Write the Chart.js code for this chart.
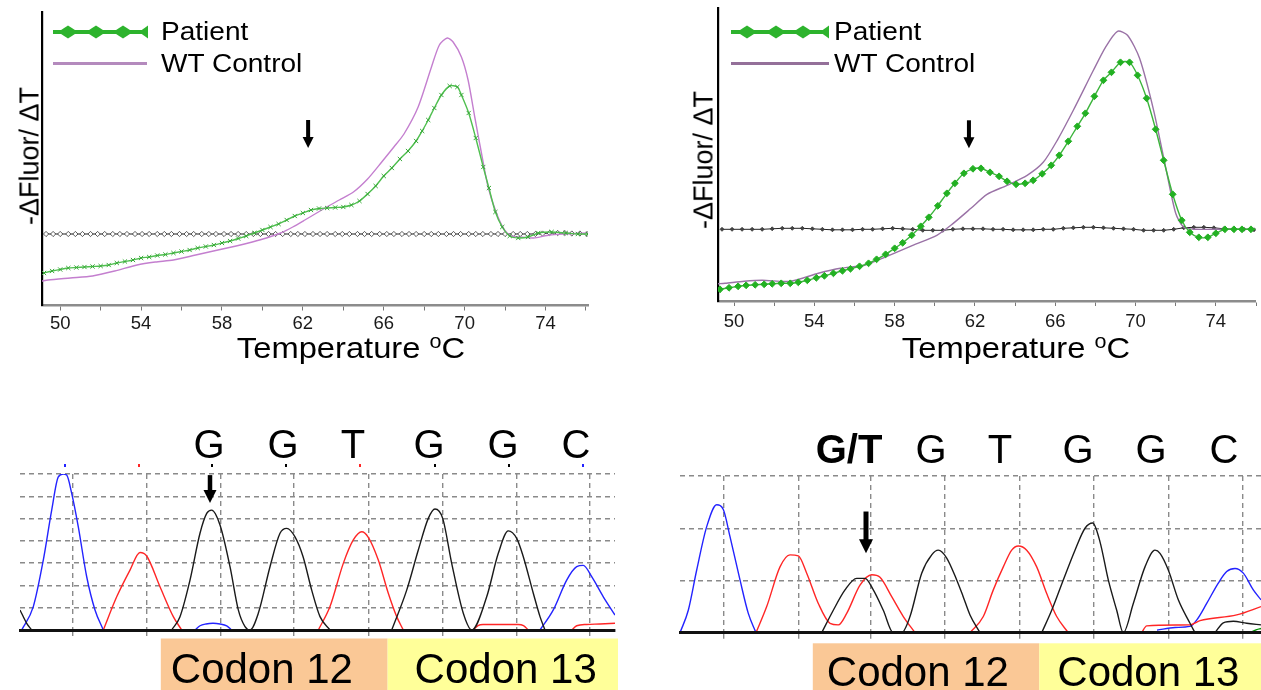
<!DOCTYPE html>
<html>
<head>
<meta charset="utf-8">
<title>Melting curves and sequencing traces</title>
<script src="https://cdn.jsdelivr.net/npm/chart.js@4.4.1/dist/chart.umd.min.js"></script>
<style>
  body { margin: 0; width: 1261px; height: 690px; position: relative; overflow: hidden; background: #fff;
         font-family: "Liberation Sans", Arial, sans-serif; }
  canvas { position: absolute; }
  .txt { position: absolute; white-space: nowrap; color: #000; line-height: 1; }
  .leg { font-size: 25.5px; transform-origin: 0 50%; transform: translateY(-50%) scaleX(1.1); }
  .xt { font-size: 30px; transform: translate(-50%, -50%) scaleX(1.09); }
  .xt span { font-size: 0.66em; position: relative; top: -0.5em; }
  .yt { font-size: 27px; transform: translate(-50%, -50%) rotate(-90deg); }
  .sw { position: absolute; }
  .wt { position: absolute; height: 3px; }
</style>
</head>
<body>
<canvas id="meltA" width="620" height="340" style="left:0;top:0"></canvas>
<canvas id="meltB" width="601" height="340" style="left:660px;top:0"></canvas>
<canvas id="seqA" width="630" height="270" style="left:0;top:420px"></canvas>
<canvas id="seqB" width="601" height="270" style="left:660px;top:420px"></canvas>

<!-- legends -->
<svg class="sw" style="left:53px;top:24px;filter:blur(0.6px)" width="96" height="16">
  <g fill="#2db32d">
    <rect x="0" y="6" width="94" height="4"/>
    <polygon points="15,1.5 25,8 15,14.5 5,8"/><polygon points="43,1.5 53,8 43,14.5 33,8"/>
    <polygon points="70,1.5 80,8 70,14.5 60,8"/><polygon points="95,1.5 95,14.5 86,8"/>
  </g>
</svg>
<div class="txt leg" style="left:161px;top:32px">Patient</div>
<div class="wt" style="left:53px;top:62px;width:94px;background:#b48abd"></div>
<div class="txt leg" style="left:161px;top:64px">WT Control</div>

<svg class="sw" style="left:731px;top:24px;filter:blur(0.6px)" width="99" height="16">
  <g fill="#2db32d">
    <rect x="0" y="6" width="97" height="4"/>
    <polygon points="16,1.5 26,8 16,14.5 6,8"/><polygon points="45,1.5 55,8 45,14.5 35,8"/>
    <polygon points="72,1.5 82,8 72,14.5 62,8"/><polygon points="98,1.5 98,14.5 89,8"/>
  </g>
</svg>
<div class="txt leg" style="left:834px;top:32px">Patient</div>
<div class="wt" style="left:731px;top:62px;width:98px;background:#947099"></div>
<div class="txt leg" style="left:834px;top:64px">WT Control</div>

<!-- axis titles -->
<div class="txt yt" style="left:30px;top:156px">-ΔFluor/ ΔT</div>
<div class="txt yt" style="left:704px;top:160px">-ΔFluor/ ΔT</div>
<div class="txt xt" style="left:351px;top:348px">Temperature <span>o</span>C</div>
<div class="txt xt" style="left:1016px;top:348px">Temperature <span>o</span>C</div>

<script>
// ---------- melting curves (temperature in degC, -dF/dT in arbitrary units) ----------
const tempMinor = [50, 52, 54, 56, 58, 60, 62, 64, 66, 68, 70, 72, 74, 76];
const tempLabels = [50, 54, 58, 62, 66, 70, 74];

// panel A: codon 12 shoulder
const tWtA = [49.1, 49.4, 50.5, 51.6, 52.7, 53.8, 54.7, 55.6, 56.7, 57.8, 58.7, 59.5, 60.2, 60.9, 61.5,
  62.1, 63.1, 63.8, 64.5, 65.2, 65.9, 66.5, 67.0, 67.7, 68.36, 68.75, 69.14, 69.43, 69.84, 70.17,
  70.5, 70.83, 71.16, 71.57, 71.97, 72.3, 72.8, 73.4, 74.2, 75.0, 76.1];
const wtA = [-0.47, -0.46, -0.44, -0.42, -0.37, -0.31, -0.28, -0.26, -0.21, -0.16, -0.12, -0.08, -0.04, 0.01, 0.07,
  0.14, 0.26, 0.34, 0.42, 0.55, 0.72, 0.87, 1.0, 1.27, 1.67, 1.89, 1.96, 1.92, 1.77, 1.54,
  1.17, 0.81, 0.47, 0.21, 0.04, -0.02, -0.03, -0.04, -0.01, 0.0, 0.01];

const tPtA = [49.2, 49.6, 50.0, 50.4, 50.8, 51.2, 51.6, 52.0, 52.4, 52.8,
  53.2, 53.6, 54.0, 54.4, 54.8, 55.2, 55.6, 56.0, 56.4, 56.8,
  57.2, 57.6, 58.0, 58.4, 58.8, 59.2, 59.6, 60.0, 60.4, 60.8,
  61.2, 61.6, 62.0, 62.4, 62.8, 63.2, 63.6, 64.0, 64.4, 64.8,
  65.2, 65.6, 66.0, 66.4, 66.8, 67.2, 67.6, 67.9, 68.2, 68.5,
  68.85, 69.26, 69.64, 69.84, 70.2, 70.55, 70.92, 71.2, 71.52, 71.86,
  72.23, 72.65, 73.14, 73.64, 74.3, 75.0, 75.6, 76.1];
const ptA = [-0.39, -0.37, -0.355, -0.34, -0.335, -0.33, -0.325, -0.32, -0.31, -0.29,
  -0.275, -0.26, -0.24, -0.23, -0.215, -0.205, -0.19, -0.175, -0.16, -0.14,
  -0.125, -0.11, -0.09, -0.07, -0.045, -0.02, 0.01, 0.04, 0.07, 0.10,
  0.14, 0.18, 0.21, 0.24, 0.255, 0.26, 0.265, 0.27, 0.29, 0.33,
  0.40, 0.48, 0.58, 0.66, 0.75, 0.83, 0.93, 1.03, 1.14, 1.26,
  1.39, 1.48, 1.47, 1.39, 1.21, 0.96, 0.67, 0.46, 0.22, 0.07,
  -0.02, -0.04, -0.03, 0.01, 0.02, 0.01, 0.0, 0.0];

const tBlankA = [49.3, 49.65, 50.0, 50.4, 50.75, 51.1, 51.5, 51.85, 52.2, 52.6,
  52.95, 53.3, 53.7, 54.05, 54.4, 54.8, 55.15, 55.5, 55.9, 56.25,
  56.6, 57.0, 57.35, 57.7, 58.1, 58.45, 58.8, 59.2, 59.55, 59.9,
  60.3, 60.65, 61.0, 61.4, 61.75, 62.1, 62.5, 62.85, 63.2, 63.6,
  63.95, 64.3, 64.7, 65.05, 65.4, 65.8, 66.15, 66.5, 66.9, 67.25,
  67.6, 68.0, 68.35, 68.7, 69.1, 69.45, 69.8, 70.2, 70.55, 70.9,
  71.3, 71.65, 72.0, 72.4, 72.75, 73.1, 73.5, 73.85, 74.2, 74.6,
  74.95, 75.3, 75.7, 76.05];
const blankA = [0, 0, 0, 0, 0, 0, 0, 0, 0, 0,
  0, 0, 0, 0, 0, 0, 0, 0, 0, 0,
  0, 0, 0, 0, 0, 0, 0, 0, 0, 0,
  0, 0, 0, 0, 0, 0, 0, 0, 0, 0,
  0, 0, 0, 0, 0, 0, 0, 0, 0, 0,
  0, 0, 0, 0, 0, 0, 0, 0, 0, 0,
  0, 0, 0, 0, 0, 0, 0, 0.005, 0.01, 0.01,
  0.01, 0.005, 0.005, 0];

// panel B: separate low-temperature peak
const tWtB = [49.2, 49.55, 50.5, 51.4, 52.8, 54.2, 55.3, 56.5, 57.5, 58.9,
  60.1, 60.8, 61.8, 62.6, 63.6, 64.6, 65.4, 66.1, 66.9, 67.9,
  68.5, 69.1, 69.6, 70.2, 70.9, 71.5, 72.0, 72.4, 73.0, 73.8, 76.0];
const wtB = [-0.545, -0.54, -0.52, -0.51, -0.52, -0.44, -0.39, -0.36, -0.28, -0.16,
  -0.06, 0.04, 0.21, 0.35, 0.44, 0.54, 0.67, 0.89, 1.19, 1.59,
  1.82, 1.98, 1.94, 1.71, 1.19, 0.62, 0.16, 0.02, 0.0, 0.0, 0.0];

const tPtB = [49.3, 49.75, 50.2, 50.6, 51.05, 51.5, 51.9, 52.35, 52.8, 53.2,
  53.65, 54.1, 54.5, 54.95, 55.4, 55.8, 56.25, 56.7, 57.1, 57.55,
  58.0, 58.4, 58.85, 59.3, 59.7, 60.15, 60.6, 61.0, 61.45, 61.9,
  62.3, 62.75, 63.2, 63.6, 64.05, 64.5, 64.9, 65.35, 65.8, 66.2,
  66.65, 67.1, 67.5, 67.95, 68.4, 68.8, 69.25, 69.7, 70.1, 70.55,
  71.0, 71.4, 71.85, 72.3, 72.7, 73.15, 73.6, 74.0, 74.45, 74.9,
  75.3, 75.75, 76.2];
const ptB = [-0.60, -0.585, -0.57, -0.56, -0.555, -0.55, -0.545, -0.54, -0.54, -0.53,
  -0.51, -0.485, -0.465, -0.44, -0.415, -0.395, -0.37, -0.34, -0.30, -0.25,
  -0.19, -0.135, -0.06, 0.03, 0.12, 0.235, 0.36, 0.46, 0.56, 0.605,
  0.61, 0.57, 0.53, 0.48, 0.45, 0.46, 0.49, 0.555, 0.64, 0.74,
  0.88, 1.03, 1.16, 1.33, 1.49, 1.57, 1.67, 1.67, 1.54, 1.31,
  1.0, 0.69, 0.35, 0.09, -0.03, -0.08, -0.08, -0.04, 0.0, 0.0,
  0.0, 0.0, 0.0];

const tBlankB = [49.4, 49.9, 50.4, 50.9, 51.4, 51.9, 52.4, 52.9, 53.4, 53.9,
  54.4, 54.9, 55.4, 55.9, 56.4, 56.9, 57.4, 57.9, 58.4, 58.9,
  59.4, 59.9, 60.4, 60.9, 61.4, 61.9, 62.4, 62.9, 63.4, 63.9,
  64.4, 64.9, 65.4, 65.9, 66.4, 66.9, 67.4, 67.9, 68.4, 68.9,
  69.4, 69.9, 70.4, 70.9, 71.4, 71.9, 72.4, 72.9, 73.4, 73.9,
  74.4, 74.9, 75.4, 75.9, 76.4];
const blankB = [0, 0, 0, 0, 0, 0.005, 0.01, 0.01, 0.01, 0.005,
  0, -0.005, -0.005, -0.005, 0, 0, 0.005, 0.01, 0.005, 0,
  -0.01, -0.01, -0.01, 0, 0.005, 0.005, 0.005, 0, 0, -0.005,
  -0.005, -0.005, 0, 0, 0.01, 0.015, 0.02, 0.02, 0.015, 0.01,
  0.005, 0, -0.01, -0.01, -0.01, 0, 0.015, 0.02, 0.02, 0.015,
  0.005, 0, 0, -0.005, 0];

// ---------- sequencing traces (scan position, signal) ----------
const gridA = [72.3, 146.7, 220.7, 294, 368.3, 442.7, 516.7, 590];
const scanBlueA = [21.7, 33.3, 43.3, 51.7, 58.3, 63.3, 66.7, 71.7, 78.3, 86.7, 95, 103.3, 150, 195, 200,
  206, 213, 220, 226.7, 231.7, 400, 540, 553.3, 566.7, 576.7, 583.3, 591.7, 603.3, 615];
const sigBlueA = [0, 1.05, 3.14, 5.38, 6.87, 7.0, 6.95, 6.13, 4.63, 2.39, 0.9, 0, null, 0, 0.19,
  0.27, 0.3, 0.27, 0.19, 0, null, 0, 0.9, 2.24, 2.84, 2.9, 2.39, 1.49, 0.67];
const scanRedA = [103.3, 116.7, 130, 140, 146.7, 160, 173.3, 181.7, 250, 318.3,
  330, 343.3, 353.3, 361.7, 368.3, 378.3, 388.3, 396.7, 403.3, 440,
  473.3, 478, 483, 518, 523.5, 528.3, 550, 571.7, 576.7, 586.7, 600, 615];
const sigRedA = [0, 1.49, 2.69, 3.48, 3.32, 1.94, 0.6, 0, null, 0,
  1.05, 2.99, 4.04, 4.41, 4.16, 3.14, 1.65, 0.6, 0, null,
  0, 0.2, 0.25, 0.25, 0.2, 0, null, 0, 0.19, 0.25, 0.27, 0.3];
const scanBlackA = [20, 26.7, 31.7, 100, 171.7, 180, 190, 200, 206.7, 211.7,
  220, 230, 238.3, 245, 250, 258.3, 270, 280, 286.7, 295,
  303, 311.7, 320, 330, 360, 391.7, 406.7, 418.3, 428.3, 435,
  442.7, 451.7, 463.3, 471.7, 486.7, 498.3, 508.3, 516.7, 523.3, 533.3, 540, 545];
const sigBlackA = [0.9, 0.3, 0, null, 0, 0.6, 2.24, 4.34, 5.23, 5.38,
  4.71, 2.84, 0.9, 0.15, 0, 0.75, 2.84, 4.34, 4.56, 4.18,
  3.3, 1.79, 0.6, 0, null, 0, 1.79, 3.59, 5.01, 5.43,
  5.01, 2.99, 0.75, 0, 1.49, 3.44, 4.45, 4.11, 3.29, 1.65, 0.6, 0];
const callTickA = [65, 139, 212, 286, 360, 435, 509, 583];
const callTickColA = ['#2323ff', '#ff2626', '#000', '#000', '#ff2626', '#000', '#000', '#2323ff'];
const basesA = ['G', 'G', 'T', 'G', 'G', 'C'];
const basePosA = [209, 283, 353, 429, 503, 576];
const codonNames = ['Codon 12', 'Codon 13'];
const codonStartA = [160.8, 387.6];
const codonEndA = [387.6, 618];

const gridB = [724, 798.3, 871, 945, 1019.3, 1093.3, 1168.3, 1242.7];
const scanBlueB = [680, 688.3, 696.7, 706.7, 716.7, 723.3, 730, 740, 748.3, 756,
  950, 1157, 1175, 1190, 1197, 1206.7, 1218.3, 1226.7, 1235, 1243.3, 1253.3, 1261];
const sigBlueB = [0, 0.43, 1.2, 2.03, 2.45, 2.36, 1.84, 1.01, 0.37, 0,
  null, 0.05, 0.1, 0.12, 0.25, 0.56, 0.95, 1.17, 1.23, 1.14, 0.82, 0.63];
const scanRedB = [756, 766.7, 780, 790, 798.3, 806.7, 818.3, 830, 838.3, 846.7,
  860, 871.7, 880, 891.7, 903.3, 915, 940, 970, 983.3, 993.3,
  1003.3, 1011.7, 1018.3, 1026.7, 1036.7, 1046.7, 1056.7, 1068.3, 1100, 1141.7,
  1146.7, 1190, 1200, 1236.7, 1261];
const sigRedB = [0, 0.5, 1.26, 1.49, 1.47, 1.14, 0.56, 0.18, 0.15, 0.37,
  0.91, 1.11, 1.06, 0.69, 0.31, 0, null, 0, 0.31, 0.82,
  1.26, 1.58, 1.66, 1.58, 1.26, 0.75, 0.31, 0, null, 0,
  0.13, 0.15, 0.23, 0.34, 0.5];
const scanBlackB = [821.7, 833.3, 845, 856.7, 865, 873.3, 883.3, 893.3, 901.7, 910,
  921.7, 931.7, 938.3, 946.7, 956.7, 963, 970, 980, 1010, 1041.7,
  1051.7, 1063.3, 1075, 1085, 1092.7, 1100, 1108.3, 1116.7, 1123.3, 1133.3,
  1145, 1155, 1160, 1168.3, 1178.3, 1190, 1195, 1205, 1215, 1223.3,
  1233.3, 1246.7, 1261];
const sigBlackB = [0, 0.43, 0.82, 1.04, 1.04, 0.82, 0.43, 0, 0, 0.31,
  1.14, 1.49, 1.58, 1.43, 1.01, 0.7, 0.34, 0, null, 0,
  0.43, 1.01, 1.58, 2.0, 2.1, 1.74, 1.01, 0.43, 0, 0.56,
  1.26, 1.58, 1.52, 1.2, 0.63, 0.18, 0, null, 0, 0.19,
  0.22, 0.18, 0.15];
const scanGreenB = [1250, 1256.7, 1261];
const sigGreenB = [0, 0.06, 0.08];
const basesB = ['G/T', 'G', 'T', 'G', 'G', 'C'];
const basePosB = [849, 931, 1000, 1078, 1151, 1224];
const codonStartB = [812.8, 1039.3];
const codonEndB = [1039.3, 1261];

// ---------- helpers ----------
const FONT = '"Liberation Sans", Arial, sans-serif';
Chart.defaults.font.family = FONT;

const pairs = (xs, ys) => xs.map((x, i) => ({ x, y: ys[i] }));

// draws arrows, base calls and codon boxes through the chart's own scales
function decor(cfg) {
  return {
    id: 'decor',
    afterDatasetsDraw(chart) {
      const { ctx, scales: { x, y } } = chart;
      ctx.save();
      ctx.fillStyle = '#000';
      (cfg.arrows || []).forEach(a => {
        const px = x.getPixelForValue(a.x);
        const top = y.getPixelForValue(a.from);
        const tip = y.getPixelForValue(a.to);
        ctx.fillRect(px - a.shaft / 2, top, a.shaft, tip - top - a.headH + 1);
        ctx.beginPath();
        ctx.moveTo(px - a.headW / 2, tip - a.headH);
        ctx.lineTo(px + a.headW / 2, tip - a.headH);
        ctx.lineTo(px, tip);
        ctx.closePath();
        ctx.fill();
      });
      ctx.restore();
    },
    afterDraw(chart) {
      const { ctx, chartArea: area, scales: { x } } = chart;
      ctx.save();
      if (cfg.ticks) {
        cfg.ticks.pos.forEach((p, i) => {
          ctx.fillStyle = cfg.ticks.colors[i];
          ctx.fillRect(x.getPixelForValue(p) - 1, area.top - 10, 2, 3);
        });
      }
      if (cfg.bases) {
        ctx.fillStyle = '#000';
        ctx.textAlign = 'center';
        ctx.textBaseline = 'alphabetic';
        cfg.bases.text.forEach((t, i) => {
          ctx.font = (t.includes('/') ? 'bold ' : '') + cfg.bases.size + 'px ' + FONT;
          ctx.fillText(t, x.getPixelForValue(cfg.bases.pos[i]), area.top + cfg.bases.dy);
        });
      }
      if (cfg.codons) {
        const c = cfg.codons;
        c.start.forEach((s, i) => {
          const x1 = x.getPixelForValue(s), x2 = x.getPixelForValue(c.end[i]);
          ctx.fillStyle = c.colors[i];
          ctx.fillRect(x1, area.bottom + c.boxDy, x2 - x1, chart.height - area.bottom - c.boxDy);
          ctx.fillStyle = '#000';
          ctx.font = c.size + 'px ' + FONT;
          ctx.textAlign = 'left';
          ctx.fillText(c.names[i], x1 + c.textDx[i], area.bottom + c.textDy);
        });
      }
      ctx.restore();
    }
  };
}

function meltChart(id, o) {
  return new Chart(document.getElementById(id), {
    type: 'scatter',
    data: {
      datasets: [
        { data: pairs(o.tPt, o.pt), showLine: true, tension: 0.25, borderColor: o.ptLine, borderWidth: 1.4,
          pointStyle: o.ptStyle, pointRadius: o.ptR, pointBackgroundColor: o.ptFill,
          pointBorderColor: o.ptFill, pointBorderWidth: 1 },
        { data: pairs(o.tWt, o.wt), showLine: true, tension: 0.25, borderColor: o.wtColor, borderWidth: 1.4,
          pointRadius: 0 },
        { data: pairs(o.tBlank, o.blank), showLine: true, borderColor: '#222', borderWidth: 1,
          pointStyle: 'rectRot', pointRadius: o.blankR, pointBackgroundColor: o.blankFill,
          pointBorderColor: '#333', pointBorderWidth: 0.8 }
      ]
    },
    options: {
      responsive: false, animation: false, events: [],
      layout: { padding: { top: o.padTop, right: o.padRight, left: 0, bottom: 0 } },
      plugins: { legend: { display: false }, tooltip: { enabled: false } },
      scales: {
        x: {
          type: 'linear', min: o.xMin, max: o.xMax,
          afterBuildTicks: s => { s.ticks = tempMinor.map(v => ({ value: v })); },
          afterFit: s => { s.height = o.xH; },
          ticks: { autoSkip: false, maxRotation: 0, padding: o.tickPad, color: '#1a1a1a',
                   font: { size: 18.5 }, callback: v => tempLabels.includes(v) ? String(v) : '' },
          grid: { drawOnChartArea: false, tickLength: 5, color: '#777' },
          border: { color: '#8c8c8c', width: 2.5 }
        },
        y: {
          min: o.yMin, max: o.yMax,
          afterFit: s => { s.width = o.yW; },
          ticks: { display: false }, grid: { display: false },
          border: { color: '#000', width: 2.2 }
        }
      }
    },
    plugins: [decor({ arrows: [o.arrow] })]
  });
}

function seqChart(id, o) {
  return new Chart(document.getElementById(id), {
    type: 'scatter',
    data: {
      datasets: o.traces.map(t => ({
        data: pairs(t[0], t[1]), showLine: true, spanGaps: false, cubicInterpolationMode: 'monotone',
        borderColor: t[2], borderWidth: 1.4, pointRadius: 0
      }))
    },
    options: {
      responsive: false, animation: false, events: [],
      layout: { padding: { top: o.padTop, right: o.padRight, left: 0, bottom: 0 } },
      plugins: { legend: { display: false }, tooltip: { enabled: false } },
      scales: {
        x: {
          type: 'linear', min: o.xMin, max: o.xMax,
          afterBuildTicks: s => { s.ticks = o.grid.map(v => ({ value: v })); },
          afterFit: s => { s.height = o.xH; },
          ticks: { display: false },
          grid: { color: '#8a8a8a', lineWidth: 1.4, tickLength: 6 },
          border: { color: '#111', width: 3, dash: [5, 4], z: 1 }
        },
        y: {
          min: 0, max: o.yMax,
          afterFit: s => { s.width = o.yW; },
          ticks: { display: false, stepSize: 1 },
          grid: { color: '#8a8a8a', lineWidth: 1.4, drawTicks: false },
          border: { display: false, dash: [5, 4] }
        }
      }
    },
    plugins: [decor(o.decor)]
  });
}

// ---------- charts ----------
meltChart('meltA', {
  tPt: tPtA, pt: ptA, tWt: tWtA, wt: wtA, tBlank: tBlankA, blank: blankA,
  ptLine: '#4fbf4f', ptFill: '#38a838', ptStyle: 'crossRot', ptR: 3,
  wtColor: '#c47fcf', blankR: 2.6, blankFill: '#fff',
  xMin: 49.1, xMax: 76.1, yMin: -0.715, yMax: 2.22,
  padTop: 12, padRight: 32, xH: 34.5, yW: 42, tickPad: 2,
  arrow: { x: 62.26, from: 1.14, to: 0.86, shaft: 4, headW: 11, headH: 11 }
});

meltChart('meltB', {
  tPt: tPtB, pt: ptB, tWt: tWtB, wt: wtB, tBlank: tBlankB, blank: blankB,
  ptLine: '#3cb43c', ptFill: '#22b022', ptStyle: 'rectRot', ptR: 3.4,
  wtColor: '#9a72a6', blankR: 2, blankFill: '#444',
  xMin: 49.2, xMax: 75.98, yMin: -0.717, yMax: 2.213,
  padTop: 8, padRight: 3, xH: 39, yW: 58, tickPad: 5,
  arrow: { x: 61.7, from: 1.09, to: 0.81, shaft: 4, headW: 11, headH: 11 }
});

seqChart('seqA', {
  traces: [[scanBlackA, sigBlackA, '#1a1a1a'], [scanRedA, sigRedA, '#ff2626'], [scanBlueA, sigBlueA, '#2323ff']],
  grid: gridA, xMin: 20, xMax: 615, yMax: 7,
  padTop: 54, padRight: 15, xH: 60, yW: 20,
  decor: {
    arrows: [{ x: 210, from: 6.95, to: 5.7, shaft: 4.5, headW: 13, headH: 13 }],
    ticks: { pos: callTickA, colors: callTickColA },
    bases: { text: basesA, pos: basePosA, size: 40, dy: -16 },
    codons: { names: codonNames, start: codonStartA, end: codonEndA, colors: ['#fac896', '#ffff99'],
              textDx: [10, 27], boxDy: 8.5, textDy: 53, size: 42 }
  }
});

seqChart('seqB', {
  traces: [[scanGreenB, sigGreenB, '#009000'], [scanBlackB, sigBlackB, '#1a1a1a'],
           [scanRedB, sigRedB, '#ff2626'], [scanBlueB, sigBlueB, '#2323ff']],
  grid: gridB, xMin: 680, xMax: 1261, yMax: 3,
  padTop: 56, padRight: 0, xH: 57.3, yW: 20,
  decor: {
    arrows: [{ x: 866, from: 2.32, to: 1.52, shaft: 5, headW: 14, headH: 14 }],
    bases: { text: basesB, pos: basePosB, size: 40, dy: -13 },
    codons: { names: codonNames, start: codonStartB, end: codonEndB, colors: ['#fac896', '#ffff99'],
              textDx: [14, 18], boxDy: 10.6, textDy: 53.5, size: 42 }
  }
});
</script>
</body>
</html>
